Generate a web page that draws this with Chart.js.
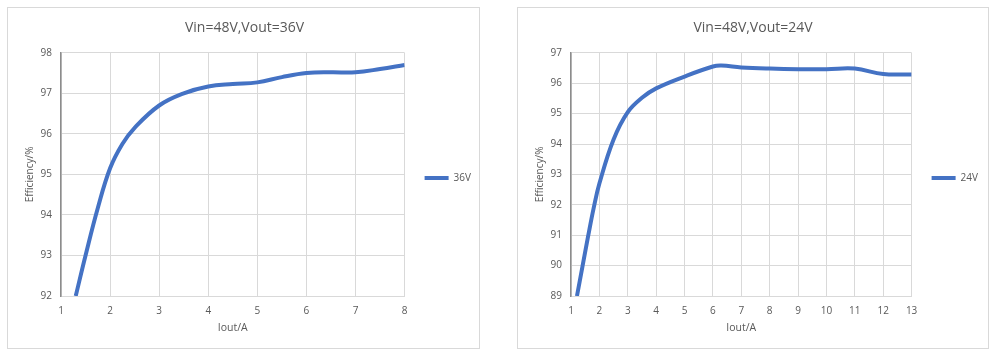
<!DOCTYPE html>
<html><head><meta charset="utf-8">
<script src="https://cdn.jsdelivr.net/npm/chart.js@4/dist/chart.umd.min.js"></script>
<style>
html,body{margin:0;padding:0;background:#fff;width:998px;height:358px;overflow:hidden}
.box{position:absolute;border:1px solid #d9d9d9;box-sizing:border-box;background:#fff}
.box canvas{display:block}
</style></head><body>
<div class="box" style="left:7px;top:7px;width:473px;height:342px"><canvas id="c1"></canvas></div>
<div class="box" style="left:517px;top:7px;width:472px;height:342px"><canvas id="c2"></canvas></div>
<script>
// Chart 1: Vin=48V, Vout=36V
const title36 = 'Vin=48V,Vout=36V';
const label36 = '36V';
const current36 = [1.3, 1.5, 1.75, 2, 2.25, 2.5, 3, 3.5, 4, 4.5, 5, 5.5, 6, 6.5, 7, 7.5, 8];
const eff36 = [92, 93.0, 94.17, 95.15, 95.75, 96.15, 96.7, 97.0, 97.17, 97.23, 97.27, 97.4, 97.5, 97.52, 97.52, 97.6, 97.7];
const xRange36 = [1, 8];
const yRange36 = [92, 98];

// Chart 2: Vin=48V, Vout=24V
const title24 = 'Vin=48V,Vout=24V';
const label24 = '24V';
const current24 = [1.21, 1.4, 1.6, 1.8, 2, 2.5, 3, 3.5, 4, 5, 6, 6.3, 7, 8, 9, 10, 11, 12, 13];
const eff24 = [89, 89.95, 90.95, 91.9, 92.7, 94.15, 95.05, 95.52, 95.83, 96.22, 96.55, 96.58, 96.52, 96.48, 96.46, 96.46, 96.48, 96.3, 96.29];
const xRange24 = [1, 13];
const yRange24 = [89, 97];

const xTitle = 'Iout/A';
const yTitle = 'Efficiency/%';

const FONT = "'Open Sans', sans-serif";
const TXT = '#595959';
const GRID = '#d9d9d9';
const BLUE = '#4472C4';

function makeChart(id, title, label, xs, ys, xr, yr, padRight) {
  const data = xs.map((x, i) => ({x: x, y: ys[i]}));
  return new Chart(document.getElementById(id), {
    type: 'line',
    data: { datasets: [{ label: label, data: data, borderColor: BLUE, backgroundColor: BLUE,
      borderWidth: 4, pointRadius: 0, pointHoverRadius: 0, tension: 0.4, fill: false,
      borderCapStyle: 'butt' }] },
    options: {
      responsive: true, maintainAspectRatio: false, animation: false,
      layout: { padding: { left: 0, right: padRight, top: 0, bottom: 0 } },
      plugins: {
        title: { display: true, text: title, color: TXT, font: { family: FONT, size: 14, weight: 'normal' },
          padding: { top: 12, bottom: 16 } },
        legend: { position: 'right', align: 'center',
          labels: { color: TXT, font: { family: FONT, size: 10 }, usePointStyle: true, pointStyle: 'line',
            pointStyleWidth: 24, boxHeight: 4, padding: 20 } },
        tooltip: { enabled: false }
      },
      scales: {
        x: { type: 'linear', min: xr[0], max: xr[1],
          ticks: { stepSize: 1, color: TXT, font: { family: FONT, size: 10 }, padding: 9, maxRotation: 0 },
          grid: { color: GRID, lineWidth: 1, drawTicks: false },
          border: { display: true, color: GRID, width: 1 },
          title: { display: true, text: xTitle, color: TXT, font: { family: FONT, size: 10.5 }, padding: { top: 0, bottom: 14 } },
          afterFit: s => { s.height = 52; } },
        y: { type: 'linear', min: yr[0], max: yr[1],
          ticks: { stepSize: 1, color: TXT, font: { family: FONT, size: 10 }, padding: 9 },
          grid: { color: GRID, lineWidth: 1, drawTicks: false },
          border: { display: true, color: '#8c8c8c', width: 1.5 },
          title: { display: true, text: yTitle, color: TXT, font: { family: FONT, size: 10 }, padding: { top: 16, bottom: 0 } },
          afterFit: s => { s.width = 53; } }
      }
    }
  });
}

makeChart('c1', title36, label36, current36, eff36, xRange36, yRange36, -2);
makeChart('c2', title24, label24, current24, eff24, xRange24, yRange24, 0);
</script>
</body></html>
